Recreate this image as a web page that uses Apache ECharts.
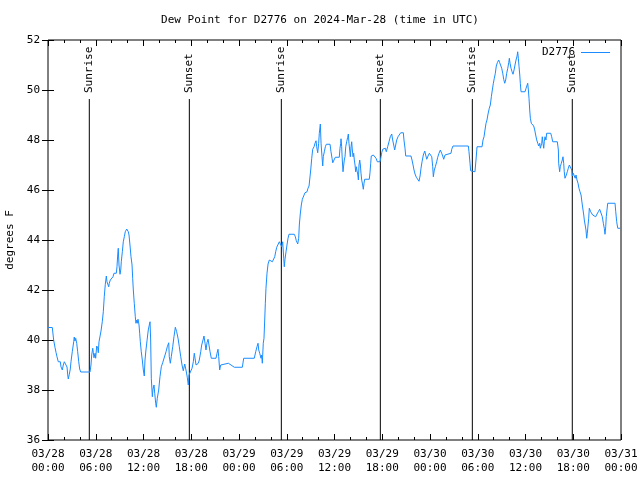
<!DOCTYPE html>
<html><head><meta charset="utf-8">
<script src="https://cdn.jsdelivr.net/npm/echarts@6/dist/echarts.min.js"></script>
<style>html,body{margin:0;padding:0;background:#fff}#c{width:640px;height:480px}</style>
</head><body><div id="c"></div>
<script>
// hours since 2024-03-28 00:00 UTC
const hours = [0,0.54,0.71,0.88,1.01,1.13,1.29,1.55,1.63,1.80,1.92,2.05,2.30,2.39,2.48,2.55,2.68,2.80,2.89,3.05,3.23,3.30,3.39,3.48,3.61,3.73,3.86,3.98,4.11,5.28,5.40,5.49,5.62,5.69,5.78,5.91,5.99,6.12,6.25,6.32,6.41,6.53,6.66,6.82,6.95,7.07,7.20,7.33,7.41,7.50,7.63,7.70,7.83,8.00,8.17,8.29,8.58,8.67,8.76,8.83,8.92,9.05,9.14,9.21,9.34,9.46,9.59,9.71,9.89,10.02,10.09,10.18,10.30,10.43,10.56,10.64,10.72,10.84,
10.97,11.05,11.15,11.22,11.31,11.44,11.52,11.60,11.72,11.85,11.98,12.10,12.19,12.31,12.44,12.60,12.73,12.82,12.90,12.98,13.11,13.19,13.32,13.41,13.53,13.61,13.73,13.91,14.07,14.24,14.41,14.66,14.83,14.99,15.17,15.24,15.37,15.49,15.67,15.83,16.00,16.17,16.34,16.50,16.68,16.84,17.00,17.18,17.34,17.50,17.63,17.72,17.84,17.97,18.10,18.26,18.38,18.51,18.60,18.76,18.89,19.01,19.19,19.31,19.48,19.60,19.73,19.85,19.98,20.11,20.23,20.36,20.52,21.11,21.24,21.36,21.45,21.57,21.70,21.83,22.66,23.00,23.41,24.42,24.59,25.92,26.10,26.26,26.39,26.48,26.60,26.77,26.85,26.93,27.05,27.14,27.23,27.31,27.39,27.52,27.65,27.81,28.02,28.19,28.36,28.49,28.61,28.74,28.94,29.07,29.24,29.37,29.49,29.62,29.69,29.78,29.91,30.03,30.16,30.28,30.95,31.08,31.20,31.38,31.50,31.58,31.70,31.83,31.96,32.17,32.29,32.55,32.67,32.80,32.88,
33.01,33.14,33.26,33.43,33.55,33.68,33.76,33.89,34.01,34.09,34.22,34.31,34.43,34.52,34.59,34.72,34.85,34.97,35.44,35.56,35.69,35.78,36.03,36.10,36.60,36.69,36.78,36.82,36.90,36.98,37.07,37.16,37.23,37.32,37.41,37.53,37.66,37.74,37.82,37.91,37.99,38.08,38.16,38.24,38.33,38.41,38.49,38.58,38.66,38.75,38.83,38.92,39.00,39.08,39.17,39.25,39.33,39.42,39.54,39.62,39.71,39.79,40.37,40.46,40.55,40.62,40.88,41.05,41.22,41.38,41.72,41.85,41.93,42.06,42.22,42.39,42.51,42.68,42.85,43.01,43.19,43.31,43.44,43.56,43.69,43.82,43.98,44.14,44.32,44.65,44.73,44.86,44.95,45.61,45.74,45.87,45.99,46.12,46.28,46.46,46.62,46.75,46.87,47.00,47.16,47.34,47.46,47.59,47.75,47.92,48.09,48.22,48.34,48.42,48.54,48.67,48.84,48.97,49.13,49.30,49.47,49.60,49.72,49.89,50.01,50.64,50.73,50.89,52.82,52.90,53.03,53.11,53.24,53.65,53.78,53.91,
54.54,54.66,54.79,54.91,55.04,55.16,55.29,55.45,55.58,55.71,55.83,55.96,56.08,56.21,56.33,56.46,56.63,56.76,56.89,57.01,57.14,57.26,57.39,57.51,57.64,57.77,57.89,57.97,58.06,58.18,58.31,58.43,58.56,58.68,58.81,58.94,59.02,59.10,59.19,59.28,59.35,59.44,59.94,60.07,60.16,60.28,60.36,60.44,60.53,60.61,60.73,60.91,61.03,61.16,61.28,61.41,61.54,61.66,61.79,61.86,61.95,62.04,62.11,62.20,62.29,62.36,62.45,62.57,62.66,63.17,63.29,63.42,64.00,64.13,64.17,64.29,64.37,64.50,64.62,64.71,64.80,64.87,64.96,65.05,65.13,65.25,65.38,65.51,65.72,65.81,65.88,66.00,66.13,66.25,66.35,66.47,66.60,66.72,66.85,66.98,67.06,67.14,67.23,67.32,67.39,67.52,67.60,67.69,67.77,67.86,67.94,68.02,68.10,68.19,68.32,68.44,68.64,68.82,68.99,69.15,69.32,69.53,69.65,69.78,69.90,69.99,70.08,70.15,70.24,70.33,71.25,71.34,71.46,71.59,71.88];
const dewF = [40.5,40.5,40.0,39.7,39.5,39.33,39.13,39.13,38.93,38.8,39.0,39.13,39.13,38.92,38.6,38.44,38.63,38.84,39.13,39.53,39.93,40.12,39.96,40.07,39.87,39.53,39.13,38.84,38.72,38.72,39.0,39.4,39.67,39.51,39.29,39.47,39.27,39.76,39.67,39.49,39.93,40.0,40.36,40.73,41.13,41.73,42.23,42.56,42.33,42.27,42.13,42.27,42.4,42.44,42.53,42.67,42.67,42.93,43.4,43.67,43.0,42.63,42.8,43.13,43.53,43.93,44.13,44.33,44.44,44.51,44.33,44.2,43.8,43.33,43.0,42.47,42.0,41.47,
40.93,40.67,40.8,40.67,40.83,40.6,40.27,39.93,39.53,39.2,38.8,38.56,39.2,39.6,39.97,40.4,40.6,40.73,40.0,38.47,37.73,38.03,38.2,37.87,37.47,37.31,37.67,38.0,38.53,38.93,39.09,39.17,39.53,39.73,39.89,39.33,39.07,39.33,39.73,40.13,40.51,40.33,40.07,39.73,39.33,39.0,38.77,39.04,38.8,38.51,38.2,38.6,38.56,38.67,38.87,39.13,39.47,39.2,39.0,38.93,39.07,39.2,39.53,39.8,40.0,40.16,39.87,39.6,39.89,40.03,39.8,39.53,39.27,39.27,39.47,39.63,39.33,38.8,39.0,39.07,39.07,39.0,38.91,38.91,39.27,39.27,39.53,39.73,39.87,39.6,39.47,39.27,39.4,39.07,39.87,40.07,40.8,41.47,42.07,42.67,43.04,43.2,43.17,43.13,43.13,43.33,43.53,43.71,43.73,43.93,43.97,43.73,43.93,43.27,42.93,43.23,43.53,43.8,44.07,44.23,44.23,44.13,43.97,43.84,44.07,44.6,45.04,45.4,45.63,45.67,45.89,45.93,46.07,46.16,46.4,
46.8,47.27,47.63,47.73,47.87,47.97,47.73,47.49,47.87,48.27,48.64,47.87,47.33,46.96,47.33,47.53,47.73,47.83,47.83,47.53,47.27,47.09,47.09,47.31,47.31,47.67,47.87,48.05,47.73,47.2,46.73,47.0,47.2,47.33,47.73,47.93,48.11,48.24,47.87,47.6,47.33,47.73,47.93,47.6,47.33,47.47,47.2,47.0,46.73,46.93,46.76,46.64,46.4,47.0,47.2,47.0,46.67,46.4,46.2,46.03,46.27,46.43,46.43,46.69,47.07,47.36,47.4,47.33,47.27,47.13,47.13,47.33,47.49,47.63,47.71,47.67,47.53,47.73,47.93,48.13,48.24,48.0,47.8,47.6,47.8,48.0,48.13,48.2,48.29,48.29,48.0,47.67,47.36,47.36,47.2,47.0,46.8,46.64,46.51,46.43,46.35,46.56,46.87,47.13,47.4,47.56,47.4,47.23,47.36,47.47,47.53,47.33,46.93,46.53,46.8,46.93,47.13,47.31,47.47,47.6,47.47,47.36,47.23,47.4,47.47,47.47,47.63,47.76,47.76,47.53,47.07,46.77,46.73,46.73,47.2,47.73,
47.73,48.0,48.13,48.4,48.67,48.8,49.04,49.27,49.4,49.73,50.0,50.27,50.47,50.67,50.96,51.09,51.2,51.09,51.07,50.87,50.67,50.43,50.27,50.4,50.67,50.87,51.09,51.27,51.07,50.87,50.73,50.63,50.8,51.0,51.2,51.36,51.53,51.27,50.93,50.6,50.27,49.93,49.93,50.07,50.0,50.27,50.0,49.67,49.2,48.87,48.67,48.6,48.56,48.4,48.2,48.0,47.87,47.76,47.87,47.67,47.63,47.87,48.13,47.87,47.67,47.93,48.13,48.0,48.27,48.27,48.13,47.93,47.93,47.6,47.07,46.73,46.93,47.07,47.2,47.33,47.07,46.73,46.47,46.4,46.6,46.73,46.87,47.0,47.0,46.8,46.56,46.67,46.56,46.47,46.6,46.4,46.27,46.07,45.93,45.8,45.6,45.4,45.2,45.0,44.8,44.73,44.4,44.07,44.27,44.6,44.87,45.27,45.33,45.13,45.07,45.0,44.93,44.93,45.04,45.13,45.23,45.23,44.93,44.67,44.47,44.23,44.53,44.93,45.2,45.47,45.47,45.13,44.73,44.47,44.47];
const sunHours = [5.19, 17.76, 29.32, 41.76, 53.32, 65.88];
const sunNames = ["Sunrise","Sunset","Sunrise","Sunset","Sunrise","Sunset"];
const xTickLabels = ["03/28\n00:00","03/28\n06:00","03/28\n12:00","03/28\n18:00","03/29\n00:00","03/29\n06:00","03/29\n12:00","03/29\n18:00","03/30\n00:00","03/30\n06:00","03/30\n12:00","03/30\n18:00","03/31\n00:00"];
const yTicks = [36,38,40,42,44,46,48,50,52];
const titleText = "Dew Point for D2776 on 2024-Mar-28 (time in UTC)";
const seriesName = "D2776";

const FONT = "DejaVu Sans Mono";
const lineData = hours.map((h,i)=>[h, dewF[i]]);
const sunData = sunHours.map((h,i)=>[h, sunNames[i]]);

const chart = echarts.init(document.getElementById('c'), null, {renderer:'canvas'});
const xBase = {type:'value', min:0, max:72, interval:6, splitLine:{show:false},
  axisLine:{show:false}, minorTick:{show:true, splitNumber:3, length:3, lineStyle:{color:'#000'}},
  axisTick:{inside:true, length:6, lineStyle:{color:'#000'}}};
const yBase = {type:'value', min:36, max:52, interval:2, splitLine:{show:false},
  axisLine:{show:false}, axisTick:{inside:true, length:6, lineStyle:{color:'#000'}}};
chart.setOption({
  animation:false,
  backgroundColor:'#fff',
  title:{text:titleText, left:'center', top:10, textStyle:{fontFamily:FONT, fontSize:11, fontWeight:'normal', color:'#000'}},
  legend:{data:[{name:seriesName, icon:'rect'}], right:25, top:42, align:'right', itemWidth:29, itemHeight:1, itemGap:5,
    itemStyle:{color:'#1a8cff'},
    textStyle:{fontFamily:FONT, fontSize:11, color:'#000', padding:[0,1,0,0]}},
  grid:{left:48, right:19, top:40, bottom:40, show:true, borderColor:'#000', borderWidth:1, containLabel:false, outerBoundsMode:'none'},
  xAxis:[
    Object.assign({}, xBase, {position:'bottom', axisLabel:{fontFamily:FONT, fontSize:11, color:'#000', margin:7, lineHeight:14,
      formatter:v=>xTickLabels[Math.round(v/6)]}}),
    Object.assign({}, xBase, {position:'top', axisLabel:{show:false}})
  ],
  yAxis:[
    Object.assign({}, yBase, {position:'left', name:'degrees F', nameLocation:'middle', nameGap:31, nameRotate:90,
      nameTextStyle:{fontFamily:FONT, fontSize:11, color:'#000'},
      axisLabel:{fontFamily:FONT, fontSize:11, color:'#000', margin:8, formatter:v=>String(yTicks[yTicks.indexOf(v)])}}),
    Object.assign({}, yBase, {position:'right', axisLabel:{show:false}})
  ],
  series:[
    {name:seriesName, type:'line', data:lineData, showSymbol:false, symbol:'none',
      lineStyle:{color:'#1a8cff', width:1}, itemStyle:{color:'#1a8cff'}, z:3},
    {type:'custom', data:sunData, silent:true, z:2,
      renderItem:function(params, api){
        const b = api.coord([api.value(0), 36]);
        const t = api.coord([api.value(0), 49.64]);
        return {type:'group', children:[
          {type:'line', shape:{x1:b[0], y1:b[1], x2:t[0], y2:t[1]}, style:{stroke:'#000', lineWidth:1}},
          {type:'text', x:b[0], y:t[1]-6, rotation:Math.PI/2,
            style:{text:sunNames[params.dataIndex], fontFamily:FONT, fontSize:11, fill:'#000', align:'left', verticalAlign:'middle'}}
        ]};
      }}
  ]
});
</script></body></html>
